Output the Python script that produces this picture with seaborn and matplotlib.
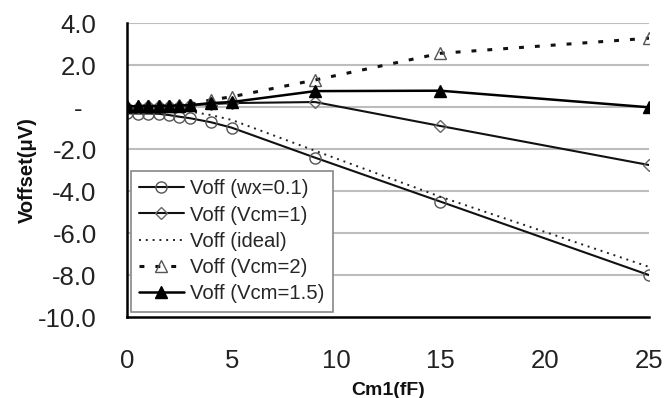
import matplotlib
matplotlib.use("Agg")
import matplotlib.pyplot as plt
import seaborn as sns
import pandas as pd

# ---- data ----
cm1 = [0, 0.5, 1, 1.5, 2, 2.5, 3, 4, 5, 9, 15, 25]
voff_wx01 = [-0.29, -0.3, -0.3, -0.31, -0.37, -0.45, -0.52, -0.71, -0.97, -2.4, -4.49, -7.99]
voff_vcm1 = [0.02, 0.03, 0.04, 0.05, 0.06, 0.08, 0.1, 0.15, 0.2, 0.25, -0.89, -2.75]
voff_ideal = [0.0, -0.01, -0.03, -0.06, -0.1, -0.15, -0.2, -0.37, -0.6, -2.07, -4.26, -7.6]
voff_vcm2 = [0.05, 0.05, 0.06, 0.07, 0.08, 0.1, 0.13, 0.35, 0.5, 1.3, 2.57, 3.29]
voff_vcm15 = [0.05, 0.05, 0.06, 0.06, 0.07, 0.08, 0.1, 0.2, 0.25, 0.77, 0.79, 0.0]

series_names = ["Voff (wx=0.1)", "Voff (Vcm=1)", "Voff (ideal)", "Voff (Vcm=2)", "Voff (Vcm=1.5)"]
series_values = [voff_wx01, voff_vcm1, voff_ideal, voff_vcm2, voff_vcm15]

y_ticks = [4, 2, 0, -2, -4, -6, -8, -10]
y_tick_labels = ["4.0", "2.0", "-  ", "-2.0", "-4.0", "-6.0", "-8.0", "-10.0"]
x_ticks = [0, 5, 10, 15, 20, 25]
x_tick_labels = ["0", "5", "10", "15", "20", "25"]
x_label = "Cm1(fF)"
y_label = "Voffset(\u03bcV)"

# ---- style ----
sns.set_theme(style="white")
plt.rcParams["font.family"] = ["Liberation Sans", "DejaVu Sans"]

styles = [
    dict(color="#111111", lw=1.5, linestyle="-", marker="o", ms=8,
         mfc="none", mec="#555555", mew=1.0),
    dict(color="#111111", lw=1.5, linestyle="-", marker="D", ms=6,
         mfc="none", mec="#666666", mew=1.0),
    dict(color="#222222", lw=1.4, linestyle=(0, (1, 2.5)), marker=None),
    dict(color="#111111", lw=2.2, linestyle=(0, (1.6, 3.6)), marker="^", ms=9,
         mfc="none", mec="#555555", mew=1.0),
    dict(color="#000000", lw=1.8, linestyle="-", marker="^", ms=9,
         mfc="#000000", mec="#000000", mew=1.0),
]

fig = plt.figure(figsize=(6.65, 3.98), dpi=100)
ax = fig.add_axes([0.1914, 0.2028, 0.7846, 0.7387])

for name, vals, st in zip(series_names, series_values, styles):
    df = pd.DataFrame({"x": cm1, "y": vals})
    sns.lineplot(data=df, x="x", y="y", ax=ax, label=name, sort=False,
                 color=st["color"], linewidth=st["lw"], linestyle=st["linestyle"],
                 marker=st["marker"], markersize=st.get("ms", 0),
                 markerfacecolor=st.get("mfc", "none"),
                 markeredgecolor=st.get("mec", st["color"]),
                 markeredgewidth=st.get("mew", 1.0), zorder=3)

ax.set_xlim(0, 25)
ax.set_ylim(-10, 4)
ax.set_yticks(y_ticks)
ax.set_yticklabels(y_tick_labels)
ax.set_xticks(x_ticks)
ax.set_xticklabels(x_tick_labels)

for yv in y_ticks:
    if yv > -10:
        ax.axhline(yv, color="#bdbdbd", lw=1.5, zorder=1)

for s in ["top", "right"]:
    ax.spines[s].set_visible(False)
for s in ["left", "bottom"]:
    ax.spines[s].set_color("black")
    ax.spines[s].set_linewidth(1.8)
    ax.spines[s].set_zorder(4)

ax.tick_params(axis="both", direction="out", length=7, width=1.8, color="black",
               labelsize=18.5, labelcolor="#222222")
ax.tick_params(axis="y", pad=15)
ax.tick_params(axis="x", pad=16)
ax.set_xlabel(x_label, fontsize=14, fontweight="bold", color="#111111", labelpad=6)
ax.set_ylabel(y_label, fontsize=14.5, fontweight="bold", color="#111111", labelpad=1)
ax.set_facecolor("white")
fig.patch.set_facecolor("white")

leg = ax.legend(loc="lower left", bbox_to_anchor=(0.0065, 0.018), borderaxespad=0,
                fontsize=14.6, frameon=True, fancybox=False, framealpha=1,
                edgecolor="#888888", handlelength=2.2, handletextpad=0.3,
                labelspacing=0.36, borderpad=0.42, numpoints=1)
leg.get_frame().set_linewidth(1.2)
leg.set_zorder(5)

fig.savefig("out.png", dpi=100, facecolor="white")
